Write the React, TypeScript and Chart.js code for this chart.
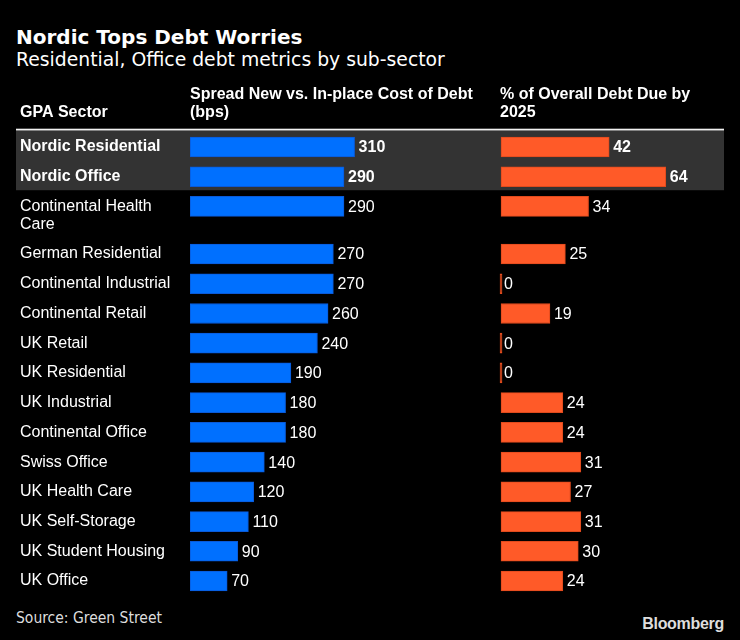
import React, { useEffect, useRef } from "react";
import { Chart, registerables } from "chart.js";

Chart.register(...registerables);

const categories = [
  "Nordic Residential",
  "Nordic Office",
  "Continental Health Care",
  "German Residential",
  "Continental Industrial",
  "Continental Retail",
  "UK Retail",
  "UK Residential",
  "UK Industrial",
  "Continental Office",
  "Swiss Office",
  "UK Health Care",
  "UK Self-Storage",
  "UK Student Housing",
  "UK Office",
];
const spreadBps = [310, 290, 290, 270, 270, 260, 240, 190, 180, 180, 140, 120, 110, 90, 70];
const debtDuePct = [42, 64, 34, 25, 0, 19, 0, 0, 24, 24, 31, 27, 31, 30, 24];
const highlighted = ["Nordic Residential", "Nordic Office"];
const headerSector = ["GPA Sector"];
const headerSpread = ["Spread New vs. In-place Cost of Debt", "(bps)"];
const headerDue = ["% of Overall Debt Due by", "2025"];

const FONT = '"Liberation Sans", Arial, sans-serif';
const BLUE = "#0070FF";
const ORANGE = "#FF5A28";

function wrapLabel(ctx: CanvasRenderingContext2D, text: string, maxW: number, bold: boolean): string[] {
  ctx.font = `${bold ? "bold " : ""}16px ${FONT}`;
  const words = text.split(" ");
  const lines: string[] = [];
  let cur = "";
  for (const w of words) {
    const t = cur ? cur + " " + w : w;
    if (ctx.measureText(t).width > maxW && cur) {
      lines.push(cur);
      cur = w;
    } else cur = t;
  }
  if (cur) lines.push(cur);
  return lines;
}

export default function App() {
  const ref = useRef<HTMLCanvasElement>(null);
  useEffect(() => {
    document.body.style.margin = "0";
    document.body.style.background = "#000";
    const canvas = ref.current!;
    const mctx = document.createElement("canvas").getContext("2d")!;
    const lines = categories.map((c) => wrapLabel(mctx, c, 165, highlighted.includes(c)));
    const pos: number[] = [];
    lines.forEach((l, i) => {
      pos.push(i === 0 ? 0 : pos[i - 1] + 1 + (lines[i - 1].length - 1) * 0.6);
    });
    const lastPos = pos[pos.length - 1];

    const tablePlugin = {
      id: "table",
      beforeDatasetsDraw(chart: any) {
        const ctx = chart.ctx as CanvasRenderingContext2D;
        const y = chart.scales.y;
        const hi = categories.map((c, i) => (highlighted.includes(c) ? i : -1)).filter((i) => i >= 0);
        const lineY = 49.7;
        ctx.save();
        ctx.fillStyle = "#fff";
        ctx.textBaseline = "middle";
        ctx.textAlign = "left";
        ctx.font = `bold 16px ${FONT}`;
        ctx.fillText(headerSector[0], 20, 33);
        headerSpread.forEach((t, k) => ctx.fillText(t, 190, 15 + k * 18));
        headerDue.forEach((t, k) => ctx.fillText(t, 500, 15 + k * 18));
        ctx.fillStyle = "#f2f2f2";
        ctx.fillRect(16, lineY - 1, 708, 2);
        if (hi.length) {
          const top = lineY + 1;
          const bottom = y.getPixelForValue(pos[hi[hi.length - 1]]) + 13.5;
          ctx.fillStyle = "#333333";
          ctx.fillRect(16, top, 708, bottom - top);
        }
        ctx.restore();
      },
      afterDatasetsDraw(chart: any) {
        const ctx = chart.ctx as CanvasRenderingContext2D;
        ctx.save();
        ctx.fillStyle = "#fff";
        ctx.textBaseline = "middle";
        ctx.textAlign = "left";
        categories.forEach((c, i) => {
          const bold = highlighted.includes(c);
          ctx.font = `${bold ? "bold " : ""}16px ${FONT}`;
          const bar = chart.getDatasetMeta(0).data[i];
          lines[i].forEach((t, k) => ctx.fillText(t, 20, bar.y + k * 18));
        });
        [spreadBps, debtDuePct].forEach((arr, d) => {
          const meta = chart.getDatasetMeta(d);
          arr.forEach((v, i) => {
            const bold = highlighted.includes(categories[i]);
            ctx.font = `${bold ? "bold " : ""}16px ${FONT}`;
            const el = meta.data[i];
            ctx.fillText(String(v), el.x + 4, el.y + 1);
          });
        });
        ctx.restore();
      },
    };

    const chart = new Chart(canvas, {
      type: "bar",
      data: {
        datasets: [
          {
            label: "Spread New vs. In-place Cost of Debt (bps)",
            data: spreadBps.map((v, i) => ({ x: v, y: pos[i] })),
            backgroundColor: BLUE,
            borderColor: "#0a5ad8",
            borderWidth: 1,
            borderSkipped: false,
            xAxisID: "x",
            yAxisID: "y",
            barThickness: 20,
            grouped: false,
          } as any,
          {
            label: "% of Overall Debt Due by 2025",
            data: debtDuePct.map((v, i) => ({ x: v, y: pos[i] })),
            backgroundColor: ORANGE,
            borderColor: "#e04a1c",
            borderWidth: 1,
            borderSkipped: false,
            xAxisID: "x2",
            yAxisID: "y",
            barThickness: 20,
            minBarLength: 2,
            grouped: false,
          } as any,
        ],
      },
      options: {
        indexAxis: "y",
        animation: false,
        responsive: false,
        maintainAspectRatio: false,
        layout: { padding: { left: 190, right: 16, top: 52.14, bottom: 4.14 } },
        scales: {
          x: { type: "linear", display: false, min: 0, max: 1005.6, offset: false },
          x2: { type: "linear", display: false, min: -120.8, max: 86.6, offset: false },
          y: { type: "linear", display: false, reverse: true, min: -0.5, max: lastPos + 0.5, offset: false },
        },
        plugins: { legend: { display: false }, tooltip: { enabled: false }, title: { display: false } },
      } as any,
      plugins: [tablePlugin],
    });
    return () => chart.destroy();
  }, []);

  return (
    <div style={{ position: "relative", width: 740, height: 640, background: "#000", overflow: "hidden" }}>
      <div
        style={{
          position: "absolute",
          left: 16,
          top: 24,
          color: "#fff",
          font: 'bold 20px "DejaVu Sans", sans-serif',
          lineHeight: "26px",
          whiteSpace: "nowrap",
        }}
      >
        Nordic Tops Debt Worries
      </div>
      <div
        style={{
          position: "absolute",
          left: 16,
          top: 47,
          color: "#fff",
          font: '18.8px "DejaVu Sans", sans-serif',
          lineHeight: "26px",
          whiteSpace: "nowrap",
        }}
      >
        Residential, Office debt metrics by sub-sector
      </div>
      <canvas ref={ref} width={740} height={520} style={{ position: "absolute", left: 0, top: 80, width: 740, height: 520 }} />
      <div
        style={{
          position: "absolute",
          left: 16,
          top: 608,
          color: "#ddd",
          font: '15.5px "DejaVu Sans Condensed", "DejaVu Sans", sans-serif',
          lineHeight: "20px",
          whiteSpace: "nowrap",
        }}
      >
        Source: Green Street
      </div>
      <div
        style={{
          position: "absolute",
          right: 16,
          top: 613,
          color: "#ddd",
          font: 'bold 16px "Liberation Sans Narrow", "Liberation Sans", sans-serif',
          lineHeight: "22px",
          letterSpacing: "-0.3px",
        }}
      >
        Bloomberg
      </div>
    </div>
  );
}
